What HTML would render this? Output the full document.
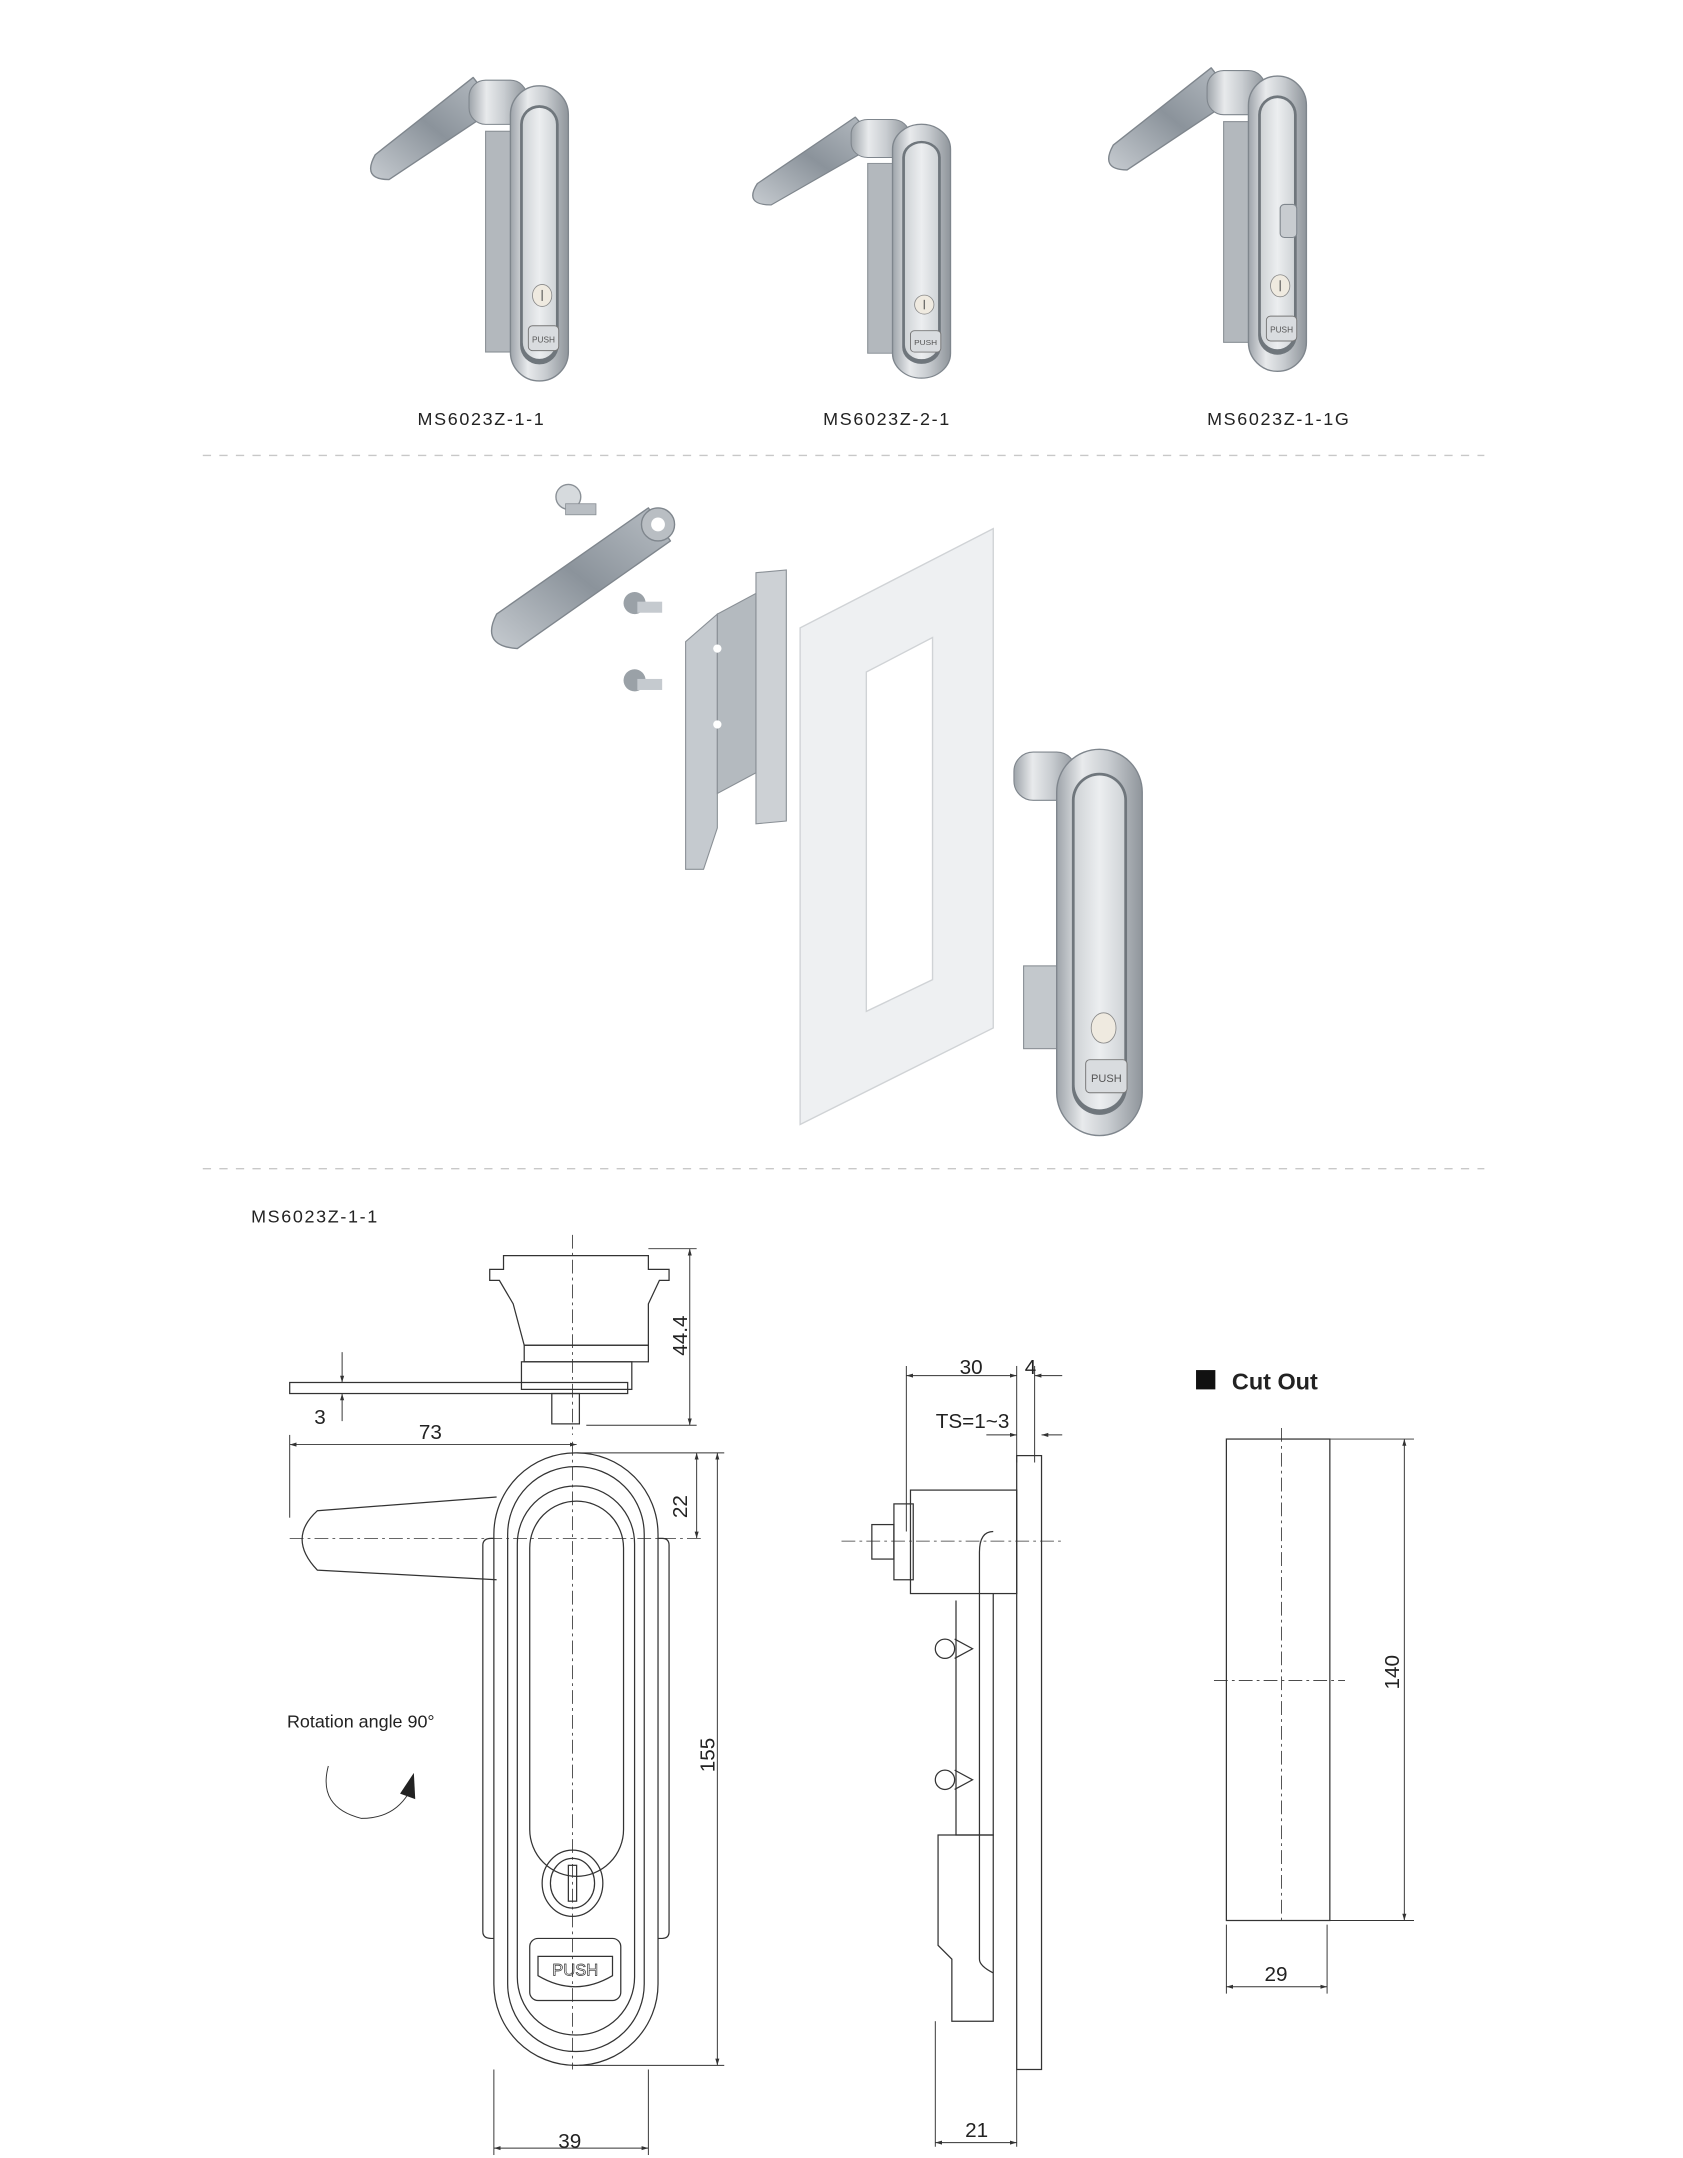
<!DOCTYPE html>
<html><head><meta charset="utf-8"><style>
html,body{margin:0;padding:0;background:#fff;}
svg{display:block;}
text{font-family:"Liberation Sans",sans-serif;}
</style></head><body>
<svg width="1683" height="2158" viewBox="0 0 1220 1564" xmlns="http://www.w3.org/2000/svg">
<defs>
<marker id="ar" viewBox="0 0 10 10" refX="10" refY="5" markerWidth="7" markerHeight="7" orient="auto-start-reverse"><path d="M0,2 L10,5 L0,8 Z" fill="#333"/></marker>
<linearGradient id="met" x1="0" x2="1" y1="0" y2="0">
<stop offset="0" stop-color="#9ea4aa"/><stop offset="0.3" stop-color="#e8eaec"/><stop offset="0.6" stop-color="#c9cdd1"/><stop offset="1" stop-color="#8f959b"/></linearGradient>
<linearGradient id="lev" x1="0" x2="1" y1="1" y2="0">
<stop offset="0" stop-color="#c6cbd0"/><stop offset="0.5" stop-color="#8b939b"/><stop offset="1" stop-color="#b8bec4"/></linearGradient>
<linearGradient id="face" x1="0" x2="1"><stop offset="0" stop-color="#cfd3d6"/><stop offset="0.5" stop-color="#eceef0"/><stop offset="1" stop-color="#d0d4d7"/></linearGradient>
<g id="prod">
<path d="M272,112 L343,56 L360,78 L282,130 Q262,130 272,112 Z" fill="url(#lev)" stroke="#7f868d" stroke-width="1" stroke-linejoin="round"/>
<rect x="352" y="95" width="20" height="160" fill="#b3b8bd" stroke="#8a9096" stroke-width="0.8"/>
<rect x="340" y="58" width="42" height="32" rx="12" fill="url(#met)" stroke="#7f868d" stroke-width="0.8"/>
<rect x="370" y="62" width="42" height="214" rx="21" fill="url(#met)" stroke="#7f868d" stroke-width="1"/>
<rect x="377" y="76" width="28" height="188" rx="14" fill="#6f767c"/>
<rect x="379" y="78" width="24" height="182" rx="12" fill="url(#face)"/>
<ellipse cx="393" cy="214" rx="7" ry="8" fill="#efeae0" stroke="#888" stroke-width="0.6"/>
<line x1="393" y1="210" x2="393" y2="218" stroke="#555" stroke-width="0.8"/>
<rect x="383" y="236" width="22" height="18" rx="3" fill="#d9dcdf" stroke="#777" stroke-width="0.7"/>
<text x="394" y="248" font-size="6" text-anchor="middle" fill="#555">PUSH</text>
</g>
</defs>

<use href="#prod"/>
<use href="#prod" transform="translate(267,28) scale(1,0.86) translate(10,10)"/>
<use href="#prod" transform="translate(535,-7)"/>
<rect x="928" y="148" width="12" height="24" rx="3" fill="#c8ccd0" stroke="#7f868d" stroke-width="0.8"/>

<g font-size="13" fill="#222" letter-spacing="1.2" text-anchor="middle">
<text x="349" y="308">MS6023Z-1-1</text>
<text x="643" y="308">MS6023Z-2-1</text>
<text x="927" y="308">MS6023Z-1-1G</text>
</g>
<line x1="147" y1="330" x2="1076" y2="330" stroke="#c8c8c8" stroke-dasharray="6,6"/>
<line x1="147" y1="847" x2="1076" y2="847" stroke="#c8c8c8" stroke-dasharray="6,6"/>

<!-- exploded -->
<circle cx="412" cy="360" r="9" fill="#d6dadd" stroke="#8a9096"/>
<rect x="410" y="365" width="22" height="8" fill="#b9bec3" stroke="#8a9096" stroke-width="0.6"/>
<path d="M360,445 L470,368 L486,392 L375,470 Q348,468 360,445 Z" fill="url(#lev)" stroke="#7f868d" stroke-linejoin="round"/>
<circle cx="477" cy="380" r="12" fill="#b9bec3" stroke="#7f868d"/>
<circle cx="477" cy="380" r="5" fill="#fff"/>
<circle cx="460" cy="437" r="8" fill="#9aa1a7"/><rect x="462" y="436" width="18" height="8" fill="#c5cacf"/>
<circle cx="460" cy="493" r="8" fill="#9aa1a7"/><rect x="462" y="492" width="18" height="8" fill="#c5cacf"/>
<polygon points="497,465 520,445 520,600 510,630 497,630" fill="#c5cacf" stroke="#8a9096" stroke-width="0.8"/>
<polygon points="520,445 548,430 548,560 520,575" fill="#b4babf" stroke="#8a9096" stroke-width="0.8"/>
<polygon points="548,415 570,413 570,595 548,597" fill="#cdd1d5" stroke="#8a9096" stroke-width="0.8"/>
<circle cx="520" cy="470" r="3" fill="#fff"/><circle cx="520" cy="525" r="3" fill="#fff"/>
<path d="M580,455 L720,383 L720,745 L580,815 Z M628,487 L676,462 L676,710 L628,733 Z" fill="#eef0f2" fill-rule="evenodd" stroke="#d0d3d6"/>
<rect x="742" y="700" width="30" height="60" fill="#c3c8cc" stroke="#8a9096" stroke-width="0.8"/>
<rect x="735" y="545" width="45" height="35" rx="14" fill="url(#met)" stroke="#7f868d" stroke-width="0.8"/>
<rect x="766" y="543" width="62" height="280" rx="31" fill="url(#met)" stroke="#7f868d"/>
<rect x="777" y="560" width="40" height="248" rx="20" fill="#6f767c"/>
<rect x="779" y="562" width="36" height="242" rx="18" fill="url(#face)"/>
<ellipse cx="800" cy="745" rx="9" ry="11" fill="#efeae0" stroke="#888" stroke-width="0.6"/>
<rect x="787" y="768" width="30" height="24" rx="3" fill="#d9dcdf" stroke="#777" stroke-width="0.7"/>
<text x="802" y="784" font-size="8" text-anchor="middle" fill="#555">PUSH</text>

<!-- drawing -->
<text x="182" y="886" font-size="13" fill="#222" letter-spacing="1.2">MS6023Z-1-1</text>
<g fill="none" stroke="#333" stroke-width="0.9">
<path d="M365,910 L470,910 L470,920 L485,920 L485,928 L478,928 L470,945 L470,975 L380,975 L372,945 L362,928 L355,928 L355,920 L365,920 Z"/>
<rect x="380" y="975" width="90" height="12"/>
<rect x="378" y="987" width="80" height="20"/>
<rect x="210" y="1002" width="245" height="8"/>
<rect x="400" y="1010" width="20" height="22"/>
<line x1="415" y1="895" x2="415" y2="1040" stroke-dasharray="10,3,2,3" stroke-width="0.6"/>
<path d="M350,1120 Q350,1115 356,1115 L480,1115 Q485,1115 485,1120 L485,1400 Q485,1405 480,1405 L356,1405 Q350,1405 350,1400 Z"/>
<rect x="358" y="1053" width="119" height="444" rx="59" fill="#fff"/>
<rect x="368" y="1063" width="99" height="424" rx="49"/>
<rect x="375" y="1077" width="85" height="398" rx="42"/>
<rect x="384" y="1088" width="68" height="272" rx="34"/>
<path d="M360,1085 L230,1095 Q208,1115 230,1138 L360,1145"/>
<ellipse cx="415" cy="1365" rx="22" ry="24"/>
<ellipse cx="415" cy="1365" rx="16" ry="18"/>
<rect x="412" y="1352" width="6" height="26"/>
<rect x="384" y="1405" width="66" height="45" rx="6"/>
<path d="M390,1418 L444,1418 L444,1432 Q417,1448 390,1432 Z"/>
<text x="417" y="1432" font-size="12" text-anchor="middle" stroke-width="0.5" fill="none">PUSH</text>
<line x1="415" y1="1045" x2="415" y2="1500" stroke-dasharray="10,3,2,3" stroke-width="0.6"/>
<line x1="210" y1="1115" x2="510" y2="1115" stroke-dasharray="10,3,2,3" stroke-width="0.6"/>
<rect x="737" y="1055" width="18" height="445"/>
<rect x="660" y="1080" width="77" height="75"/>
<rect x="648" y="1090" width="14" height="55"/>
<rect x="632" y="1105" width="16" height="25"/>
<path d="M693,1160 L693,1330 L720,1330 L720,1155"/>
<path d="M680,1330 L720,1330 L720,1465 L690,1465 L690,1420 L680,1410 Z"/>
<path d="M720,1110 Q710,1110 710,1125 L710,1420 Q710,1425 720,1430"/>
<circle cx="685" cy="1195" r="7"/><circle cx="685" cy="1290" r="7"/>
<path d="M692,1188 L705,1195 L692,1202"/><path d="M692,1283 L705,1290 L692,1297"/>
<line x1="610" y1="1117" x2="770" y2="1117" stroke-dasharray="10,3,2,3" stroke-width="0.6"/>
<rect x="889" y="1043" width="75" height="349"/>
<line x1="929" y1="1035" x2="929" y2="1395" stroke-dasharray="10,3,2,3" stroke-width="0.6"/>
<line x1="880" y1="1218" x2="975" y2="1218" stroke-dasharray="10,3,2,3" stroke-width="0.6"/>
</g>
<g stroke="#333" stroke-width="0.7" fill="none">
<line x1="470" y1="905" x2="505" y2="905"/><line x1="425" y1="1033" x2="505" y2="1033"/>
<line x1="500" y1="905" x2="500" y2="1033" marker-start="url(#ar)" marker-end="url(#ar)"/>
<line x1="248" y1="980" x2="248" y2="1002" marker-end="url(#ar)"/><line x1="248" y1="1030" x2="248" y2="1010" marker-end="url(#ar)"/>
<line x1="210" y1="1040" x2="210" y2="1100"/><line x1="210" y1="1047" x2="418" y2="1047" marker-start="url(#ar)" marker-end="url(#ar)"/>
<line x1="418" y1="1053" x2="525" y2="1053"/><line x1="505" y1="1053" x2="505" y2="1115" marker-start="url(#ar)" marker-end="url(#ar)"/>
<line x1="420" y1="1497" x2="525" y2="1497"/><line x1="520" y1="1053" x2="520" y2="1497" marker-start="url(#ar)" marker-end="url(#ar)"/>
<line x1="358" y1="1500" x2="358" y2="1562"/><line x1="470" y1="1500" x2="470" y2="1562"/><line x1="358" y1="1557" x2="470" y2="1557" marker-start="url(#ar)" marker-end="url(#ar)"/>
<line x1="657" y1="997" x2="737" y2="997" marker-start="url(#ar)" marker-end="url(#ar)"/><line x1="770" y1="997" x2="750" y2="997" marker-end="url(#ar)"/>
<line x1="657" y1="990" x2="657" y2="1110"/><line x1="737" y1="990" x2="737" y2="1060"/><line x1="750" y1="990" x2="750" y2="1060"/>
<line x1="715" y1="1040" x2="737" y2="1040" marker-end="url(#ar)"/><line x1="770" y1="1040" x2="755" y2="1040" marker-end="url(#ar)"/>
<line x1="678" y1="1465" x2="678" y2="1556"/><line x1="737" y1="1500" x2="737" y2="1556"/><line x1="678" y1="1553" x2="737" y2="1553" marker-start="url(#ar)" marker-end="url(#ar)"/>
<line x1="964" y1="1043" x2="1025" y2="1043"/><line x1="964" y1="1392" x2="1025" y2="1392"/><line x1="1018" y1="1043" x2="1018" y2="1392" marker-start="url(#ar)" marker-end="url(#ar)"/>
<line x1="889" y1="1395" x2="889" y2="1445"/><line x1="962" y1="1395" x2="962" y2="1445"/><line x1="889" y1="1440" x2="962" y2="1440" marker-start="url(#ar)" marker-end="url(#ar)"/>
<path d="M238,1280 Q230,1310 262,1318 Q285,1318 296,1300"/>
</g>
<polygon points="290,1300 300,1285 301,1304" fill="#222"/>
<g font-size="15" fill="#222" text-anchor="middle">
<text x="232" y="1032">3</text>
<text x="312" y="1043">73</text>
<text x="413" y="1557">39</text>
<text x="704" y="996">30</text>
<text x="747" y="996">4</text>
<text x="705" y="1035">TS=1~3</text>
<text x="708" y="1549">21</text>
<text x="925" y="1436">29</text>
<text transform="translate(498,968) rotate(-90)">44.4</text>
<text transform="translate(498,1092) rotate(-90)">22</text>
<text transform="translate(518,1272) rotate(-90)">155</text>
<text transform="translate(1014,1212) rotate(-90)">140</text>
</g>
<text x="208" y="1252" font-size="13" fill="#222">Rotation angle  90°</text>
<rect x="867" y="993" width="14" height="14" fill="#111"/>
<text x="893" y="1007" font-size="17" font-weight="bold" fill="#222">Cut Out</text>
</svg>
</body></html>
